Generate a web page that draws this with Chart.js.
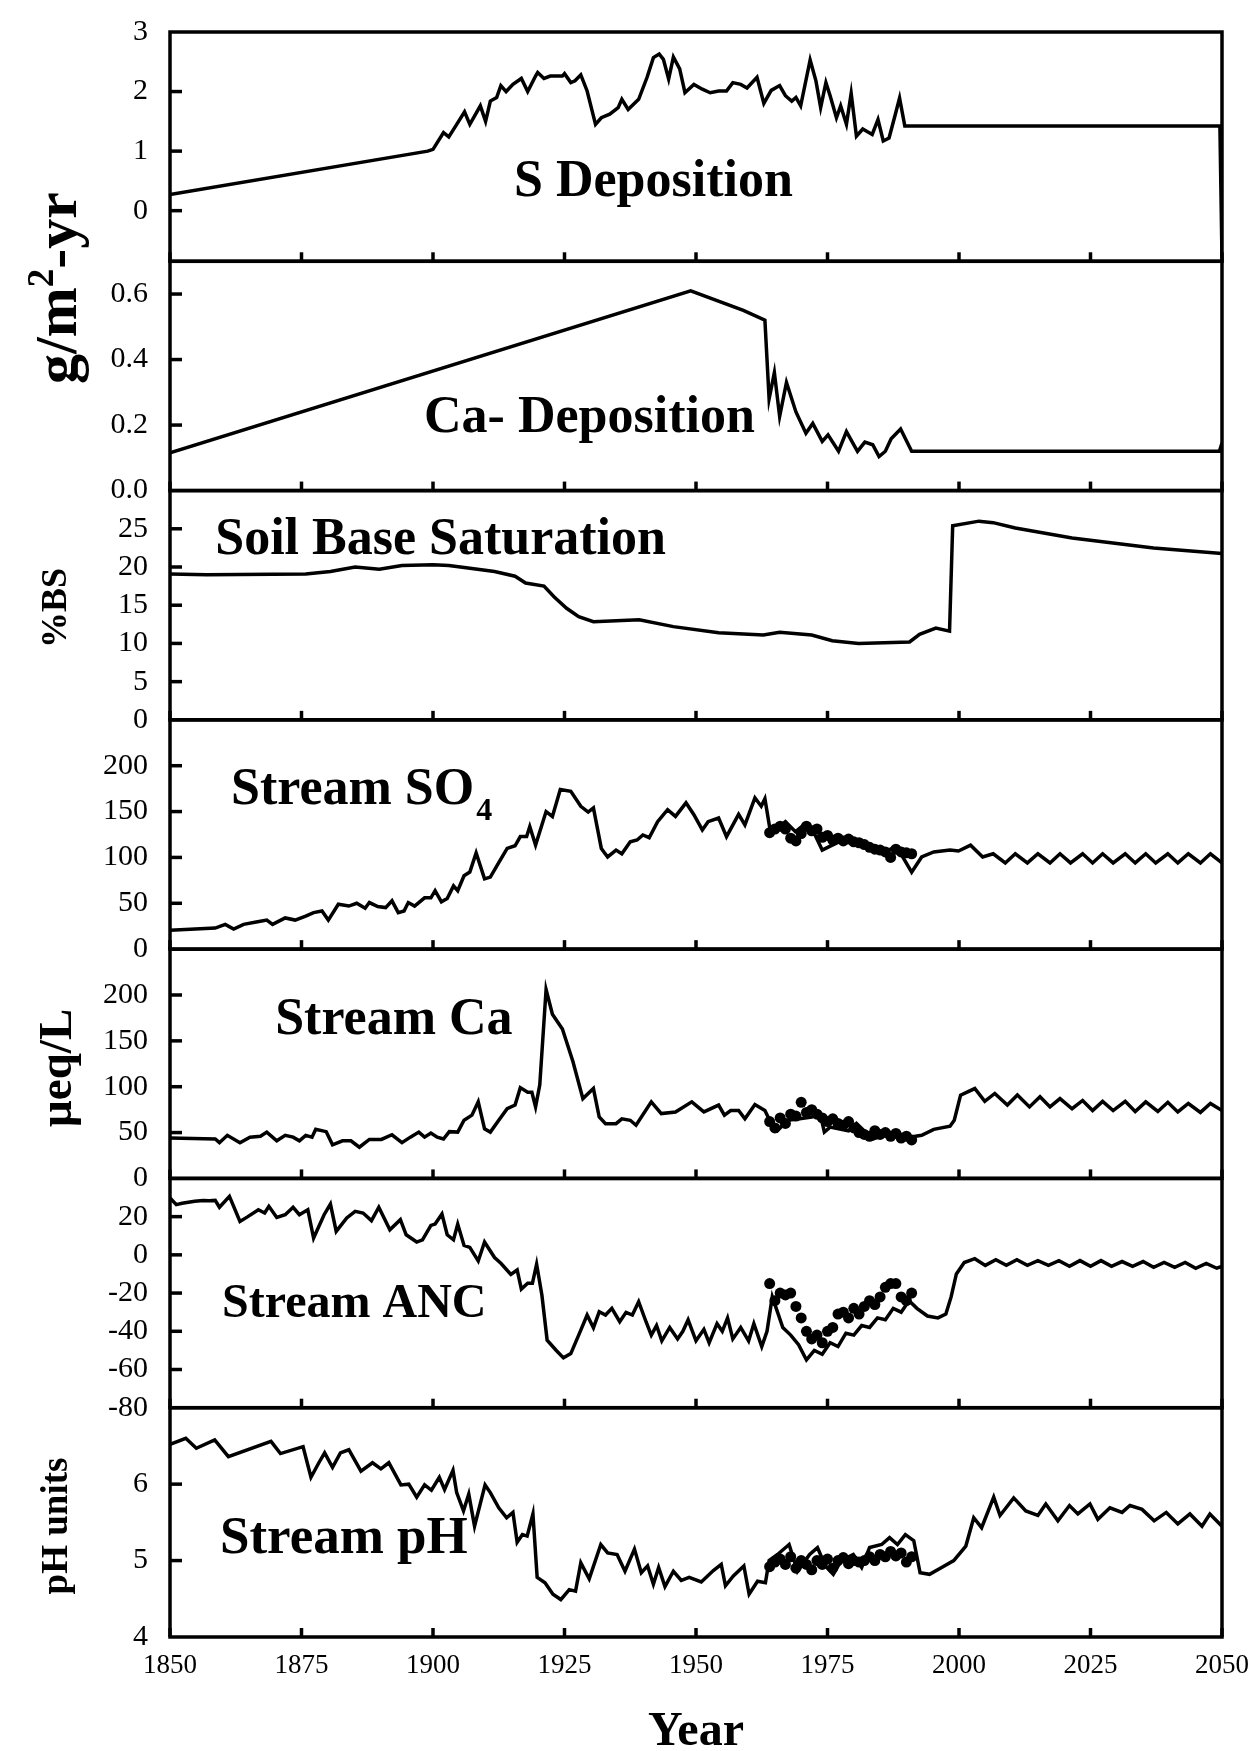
<!DOCTYPE html>
<html>
<head>
<meta charset="utf-8">
<title>Stream chemistry reconstruction 1850-2050</title>
<script src="https://cdn.jsdelivr.net/npm/chart.js@4.4.1/dist/chart.umd.min.js"></script>
<style>
  html, body { margin: 0; padding: 0; background: #fff; }
  #wrap { width: 1256px; height: 1751px; }
</style>
</head>
<body>
<div id="wrap"><canvas id="chart" width="1256" height="1751"></canvas></div>
<script>
// ---- data -------------------------------------------------------------
const yearTicks = [1850, 1875, 1900, 1925, 1950, 1975, 2000, 2025, 2050];

const sDepTicks = [0, 1, 2, 3];
const caDepTicks = [0, 0.2, 0.4, 0.6];
const bsTicks = [0, 5, 10, 15, 20, 25];
const so4Ticks = [0, 50, 100, 150, 200];
const caTicks = [0, 50, 100, 150, 200];
const ancTicks = [-80, -60, -40, -20, 0, 20];
const phTicks = [4, 5, 6];

// S deposition, g/m2-yr
const sDepYears = [
  1850, 1899, 1900, 1902, 1903, 1904.3, 1906, 1907, 1909, 1910,
  1910.9, 1912.1, 1912.9, 1913.9, 1915.2, 1916.8, 1918, 1919.5, 1919.9, 1921.1,
  1922.3, 1924.6, 1925, 1926.2, 1927, 1928.1, 1929.3, 1930.9, 1932, 1933.6,
  1935.2, 1935.9, 1937.1, 1939.1, 1940.7, 1941.9, 1943, 1943.8, 1944.8, 1945.7,
  1946.9, 1947.9, 1949.6, 1951.2, 1952.7, 1954.3, 1955.8, 1957, 1958.5, 1959.7,
  1961.6, 1962.9, 1964.3, 1965.9, 1967, 1968.2, 1969, 1969.9, 1971.7, 1972.8,
  1973.7, 1974.7, 1975.5, 1976.7, 1977.5, 1978.6, 1979.5, 1980.5, 1981.7, 1983.5,
  1984.6, 1985.6, 1986.7, 1987.9, 1988.7, 1989.7, 2049.6, 2050
];
const sDepValues = [
  0.27, 1.0, 1.03, 1.31, 1.24, 1.42, 1.66, 1.45, 1.76, 1.5,
  1.84, 1.90, 2.10, 2.0, 2.12, 2.22, 2.0, 2.26, 2.32, 2.22,
  2.26, 2.26, 2.30, 2.15, 2.18, 2.28, 2.01, 1.45, 1.56, 1.62,
  1.73, 1.87, 1.70, 1.87, 2.24, 2.57, 2.63, 2.54, 2.21, 2.58,
  2.38, 1.98, 2.12, 2.04, 1.98, 2.01, 2.01, 2.15, 2.12, 2.06,
  2.24, 1.80, 2.02, 2.10, 1.93, 1.84, 1.90, 1.76, 2.53, 2.18,
  1.73, 2.15, 1.93, 1.56, 1.76, 1.45, 1.97, 1.25, 1.37, 1.28,
  1.53, 1.17, 1.22, 1.62, 1.89, 1.42, 1.42, -0.8
];

// Ca deposition, g/m2-yr
const caDepYears = [
  1850, 1949, 1959, 1963.1, 1963.9, 1964.9, 1965.9, 1967.2, 1969, 1970.9,
  1972.2, 1974, 1975.1, 1977.1, 1978.6, 1980.7, 1982.1, 1983.6, 1984.8, 1986,
  1987.1, 1988.9, 1991, 2049.5, 2050
];
const caDepValues = [
  0.115, 0.61, 0.55, 0.52, 0.28, 0.36, 0.226, 0.33, 0.24, 0.175,
  0.205, 0.15, 0.17, 0.12, 0.18, 0.12, 0.148, 0.14, 0.104, 0.12,
  0.158, 0.188, 0.12, 0.12, 0.145
];

// soil base saturation, %
const bsYears = [
  1850, 1857, 1875.8, 1880.5, 1885.2, 1889.8, 1894.1, 1900, 1903, 1906.3,
  1911.7, 1915.6, 1917.6, 1921.1, 1923, 1925.4, 1927.7, 1930.5, 1939.2, 1945.7,
  1954.3, 1962.8, 1965.9, 1972, 1975.9, 1980.9, 1990.6, 1992.5, 1995.6, 1998.2,
  1998.8, 2003.8, 2006.5, 2010.7, 2021.5, 2037, 2050
];
const bsValues = [
  19.1, 19.0, 19.1, 19.4, 20.0, 19.7, 20.2, 20.3, 20.2, 19.9,
  19.4, 18.8, 17.9, 17.5, 16.1, 14.6, 13.5, 12.85, 13.1, 12.2,
  11.4, 11.1, 11.45, 11.1, 10.35, 10.0, 10.2, 11.2, 12.0, 11.6,
  25.4, 26.0, 25.8, 25.1, 23.8, 22.5, 21.75
];

// stream SO4, ueq/L (simulated)
const so4Years = [
  1850, 1858.6, 1860.5, 1862.1, 1864, 1866.4, 1868.4, 1869.5, 1871.9, 1873.8,
  1875.8, 1877.3, 1878.9, 1880.1, 1882, 1884, 1885.5, 1887.1, 1887.9, 1889.5,
  1891, 1892.2, 1893.4, 1894.5, 1895.3, 1896.5, 1898.4, 1899.6, 1900.4, 1901.6,
  1902.7, 1903.9, 1904.7, 1905.9, 1907, 1908.2, 1909.8, 1910.9, 1912.5, 1914.1,
  1915.6, 1916.6, 1917.8, 1918.4, 1919.5, 1921.5, 1922.7, 1924.2, 1926.2, 1928.1,
  1929.5, 1930.5, 1932, 1933.2, 1934.8, 1935.9, 1937.5, 1938.8, 1939.9, 1941.1,
  1942.7, 1944.6, 1946.1, 1948.1, 1949.6, 1951.2, 1952.3, 1954.3, 1955.8, 1958.1,
  1959.3, 1961.2, 1962.4, 1963.1, 1964.2, 1965.9, 1967, 1968.9, 1970.5, 1972,
  1974, 1975.9, 1978.6, 1981.3, 1983.6, 1985.9, 1987.5, 1989.1, 1991, 1992.9,
  1995.2, 1998.3, 1999.9, 2002.2, 2004.5, 2006.5, 2008.8, 2010.7, 2013, 2015,
  2017.3, 2019.2, 2021.2, 2023.5, 2025.4, 2027.3, 2029.3, 2031.6, 2033.5, 2035.5,
  2037.4, 2039.7, 2041.6, 2043.6, 2045.9, 2047.8, 2050
];
const so4Values = [
  20.6, 23, 27, 22, 27, 29.5, 31.7, 27, 34, 31.7,
  36, 39.8, 41.6, 31.7, 49, 47, 50, 44.6, 50.8, 46.4,
  45.3, 52.7, 39.8, 41.6, 50.8, 47, 56, 56, 63.7, 51.6,
  55.2, 69, 63.7, 80, 84, 105, 76.6, 78.5, 94.3, 109.8,
  112.7, 122.7, 122.7, 133.7, 113.4, 150, 144.7, 174, 172, 155.8,
  149.5, 154, 109.8, 100.5, 108, 104, 117, 119, 124.5, 121.5,
  139, 152, 144.7, 159.5, 146.6, 130, 139, 143, 122.7, 147,
  135.5, 165, 155.8, 164, 126, 133.7, 139, 128, 135.5, 132,
  108, 113.4, 120.8, 117, 109.8, 106, 110.5, 102.4, 84, 100.5,
  106, 108, 107, 113.4, 100.5, 104, 94, 104, 94, 104,
  94, 104, 94, 104, 94, 104, 94, 104, 94, 104,
  94, 104, 94, 104, 94, 104, 94
];

// stream Ca, ueq/L (simulated)
const caYears = [
  1850, 1858.6, 1859.4, 1860.9, 1863.3, 1865.2, 1867.2, 1868.4, 1870.3, 1871.9,
  1873.4, 1874.6, 1875.8, 1877, 1877.7, 1879.7, 1880.9, 1882.8, 1884.4, 1886,
  1887.9, 1890.2, 1892.2, 1894.1, 1895.7, 1897.3, 1898.4, 1899.6, 1900.8, 1902,
  1903.1, 1904.7, 1905.9, 1907.4, 1908.6, 1909.8, 1910.9, 1912.5, 1914.1, 1915.6,
  1916.6, 1918, 1918.8, 1919.5, 1920.3, 1921.5, 1922.7, 1924.6, 1926.6, 1928.5,
  1930.5, 1931.6, 1932.8, 1934.8, 1935.9, 1937.5, 1938.6, 1941.5, 1943.4, 1946.1,
  1949.2, 1951.5, 1954.3, 1955.4, 1956.6, 1958.1, 1959.3, 1961.2, 1963.1, 1964.3,
  1965.5, 1967.4, 1969.7, 1972, 1973.6, 1974.4, 1975.5, 1979, 1980.5, 1983.6,
  1986.7, 1990.6, 1992.9, 1995.2, 1998.3, 1999.1, 2000.3, 2003, 2004.9, 2006.8,
  2009.2, 2011.1, 2013.4, 2015.4, 2017.3, 2019.2, 2021.5, 2023.5, 2025.4, 2027.3,
  2029.3, 2031.6, 2033.5, 2035.5, 2037.8, 2039.7, 2041.6, 2043.6, 2045.9, 2047.8,
  2050
];
const caValues = [
  44, 43, 39, 47, 39, 45, 46, 50.5, 41, 47,
  45, 41, 47, 45, 53.5, 51, 36.6, 41, 41, 34,
  42.5, 42.5, 47.6, 39, 45, 50.5, 45, 49.5, 45, 43,
  51, 50.5, 63.4, 69, 83.5, 54, 50.5, 63.4, 76, 80,
  99, 94, 94, 78, 102, 206, 179, 163, 127.5, 87,
  98, 67, 59.7, 59.7, 65, 63.4, 58, 83.5, 70.7, 72.5,
  83.5, 72.5, 80, 69, 74, 74, 65, 80.6, 74, 60,
  52, 63.4, 65, 67, 70.7, 50.5, 56, 52, 60, 43,
  48.7, 45, 47, 53.5, 57, 63.4, 90.8, 98, 84, 92.6,
  80, 91, 78, 89, 78, 87, 76, 85, 74, 84,
  74, 84, 73, 83.5, 73, 83, 72.5, 81.7, 72, 81.7,
  74
];

// stream ANC, ueq/L (simulated)
const ancYears = [
  1850, 1851.2, 1852.3, 1853.5, 1854.7, 1856.3, 1857.5, 1858.6, 1859.4, 1861.3,
  1863.3, 1864.8, 1866.8, 1868, 1868.8, 1870.3, 1871.9, 1873.4, 1874.6, 1876.2,
  1877.3, 1879.3, 1880.5, 1881.6, 1883.6, 1885.2, 1886.7, 1888.3, 1889.7, 1891.8,
  1893.8, 1894.9, 1896.9, 1898, 1899.6, 1900.4, 1901.7, 1902.7, 1903.9, 1904.7,
  1905.9, 1907, 1908.6, 1909.8, 1911.7, 1912.9, 1914.8, 1916, 1916.8, 1918,
  1918.9, 1919.7, 1920.7, 1921.7, 1923.4, 1924.8, 1926.2, 1928.1, 1929.3, 1930.5,
  1931.6, 1932.8, 1934, 1935.5, 1936.7, 1937.9, 1939.1, 1940.5, 1941.5, 1942.5,
  1943.5, 1945, 1946.5, 1947.5, 1948.5, 1950, 1951.5, 1952.5, 1954, 1955,
  1956, 1957, 1958.5, 1960, 1961, 1962.5, 1963.5, 1964.5, 1965.5, 1966.5,
  1968, 1969.5, 1971, 1972.5, 1974, 1975.5, 1977, 1978.5, 1980, 1981.5,
  1983, 1984.5, 1986, 1987.5, 1989, 1990.5, 1992, 1994, 1996, 1997.5,
  1998.5, 1999.5, 2001, 2003, 2005, 2007, 2009, 2011, 2013, 2015,
  2017, 2019, 2021, 2023, 2025, 2027, 2029, 2031, 2033, 2035,
  2037, 2039, 2041, 2043, 2045, 2047, 2049, 2050
];
const ancValues = [
  29.8, 26.3, 27, 27.5, 28, 28.5, 28.3, 28.5, 24.9, 30.6,
  17.5, 20, 23.6, 21.9, 25.4, 19.6, 21, 24.9, 21, 23.6,
  8.8, 21, 26.6, 12.3, 19.3, 22.8, 21.9, 17.9, 24.9, 13.1,
  18.4, 10.5, 6.7, 7.9, 15.4, 16.1, 21.4, 10.5, 7.9, 16.1,
  4.9, 3.9, -3.2, 6.7, -1.4, -4.4, -10.2, -7.9, -17.9, -14.9,
  -14.9, -4.9, -21, -44.7, -49.9, -53.9, -51.7, -39.4, -31.5, -38.2,
  -29.8, -31.5, -28, -35, -30.1, -31.5, -24.5, -35, -42, -37,
  -45, -38, -44, -40, -34, -45, -39, -46, -36, -40,
  -33, -44, -38, -45, -36, -48, -40, -22, -30, -38,
  -42, -47, -55, -50, -52, -46, -48, -41, -42, -37,
  -38, -33, -34, -28, -30, -24, -28, -32, -33, -31,
  -22, -10, -4, -2, -5.5, -2.5, -5.5, -2.5, -5.5, -3,
  -5.5, -3, -6, -3, -6, -3, -6, -3.5, -6, -3.5,
  -6.5, -4, -6.5, -4, -7, -4.5, -7, -6
];

// stream pH (simulated)
const phYears = [
  1850, 1853, 1855, 1858.5, 1861.1, 1869.2, 1871, 1875.3, 1876.8, 1878.3,
  1879.4, 1880.9, 1882.4, 1884, 1886.3, 1888.5, 1890.1, 1891.6, 1893.9, 1895.4,
  1896.9, 1898.4, 1899.7, 1901.2, 1902.2, 1903.8, 1904.5, 1905.8, 1906.8, 1907.9,
  1909.9, 1910.9, 1912.5, 1914, 1915.2, 1916, 1917, 1917.9, 1919, 1919.8,
  1921.3, 1922.8, 1924.3, 1925.9, 1927.1, 1928.1, 1929.7, 1931.9, 1933.2, 1935,
  1936.5, 1938.3, 1939.6, 1940.8, 1941.9, 1942.9, 1944.1, 1945.7, 1947.2, 1948.7,
  1951, 1953.3, 1954.8, 1955.6, 1957.1, 1959.1, 1960.1, 1961.7, 1963.2, 1963.9,
  1965.5, 1967.7, 1969.3, 1971.6, 1973.1, 1974.6, 1976.1, 1977.6, 1979.9, 1981.5,
  1983, 1985.3, 1986.8, 1988.3, 1989.8, 1991.4, 1992.6, 1994.4, 1996.7, 1999,
  2001.3, 2002.8, 2004.3, 2006.6, 2007.8, 2010.4, 2012.7, 2015, 2016.5, 2018.8,
  2021, 2022.6, 2024.9, 2026.4, 2028.7, 2031, 2032.5, 2034.8, 2037.1, 2039.4,
  2041.6, 2043.9, 2046.2, 2047.7, 2050
];
const phValues = [
  6.52, 6.60, 6.47, 6.58, 6.36, 6.56, 6.40, 6.49, 6.09, 6.28,
  6.41, 6.22, 6.41, 6.45, 6.17, 6.28, 6.20, 6.28, 5.99, 6.0,
  5.83, 5.99, 5.92, 6.09, 5.93, 6.18, 5.89, 5.65, 5.87, 5.45,
  5.99, 5.89, 5.69, 5.56, 5.63, 5.24, 5.34, 5.32, 5.61, 4.78,
  4.71, 4.56, 4.49, 4.62, 4.60, 4.97, 4.76, 5.21, 5.10, 5.08,
  4.86, 5.15, 4.84, 4.93, 4.69, 4.91, 4.66, 4.86, 4.74, 4.78,
  4.72, 4.87, 4.95, 4.67, 4.80, 4.93, 4.56, 4.73, 4.71, 5.0,
  5.08, 5.21, 4.86, 5.08, 5.17, 4.93, 4.82, 5.0, 5.08, 4.91,
  5.17, 5.21, 5.30, 5.21, 5.34, 5.26, 4.84, 4.82, 4.91, 5.0,
  5.19, 5.56, 5.43, 5.83, 5.59, 5.82, 5.65, 5.59, 5.74, 5.52,
  5.72, 5.61, 5.74, 5.54, 5.69, 5.63, 5.72, 5.67, 5.52, 5.63,
  5.48, 5.61, 5.45, 5.61, 5.45
];

// stream observations 1964-1991
const obsYears = [
  1964, 1965, 1966, 1967, 1968, 1969, 1970, 1971, 1972, 1973,
  1974, 1975, 1976, 1977, 1978, 1979, 1980, 1981, 1982, 1983,
  1984, 1985, 1986, 1987, 1988, 1989, 1990, 1991
];
const obsSO4 = [
  127, 131, 134, 131, 121, 118, 126, 134, 129, 131,
  122, 124, 119, 121, 118, 120, 117, 116, 114, 111,
  109, 108, 106, 100, 109, 106, 105, 104
];
const obsCa = [
  62, 55, 66, 60, 70, 68, 83, 72, 75, 70,
  66, 62, 65, 60, 58, 62, 55, 50, 48, 46,
  52, 48, 50, 46, 49, 44, 46, 42
];
const obsANC = [
  -15, -24, -20, -21, -20, -27, -33, -40, -44, -42,
  -46, -40, -38, -31, -30, -33, -28, -31, -27, -24,
  -26, -22, -17, -15, -15, -22, -24, -20
];
const obsPH = [
  4.92, 4.98, 5.02, 4.95, 5.05, 4.90, 5.00, 4.95, 4.88, 5.00,
  4.95, 5.02, 4.90, 5.00, 5.04, 4.96, 5.00, 4.98, 5.00, 5.05,
  5.00, 5.08, 5.05, 5.12, 5.06, 5.10, 4.98, 5.05
];

// ---- chart ------------------------------------------------------------
const SERIF = "'Liberation Serif', 'Times New Roman', Times, serif";
const AXIS_W = 170;
const INK = 3.5;

const toPoints = (xs, ys) => xs.map((x, i) => ({ x, y: ys[i] }));

// panels from top to bottom
const panels = [
  { id: 'ySdep',  min: -0.85, max: 3,   ticks: sDepTicks,  fmt: v => String(v) },
  { id: 'yCaDep', min: 0,     max: 0.7, ticks: caDepTicks, fmt: v => v.toFixed(1) },
  { id: 'yBS',    min: 0,     max: 30,  ticks: bsTicks,    fmt: v => String(v) },
  { id: 'ySO4',   min: 0,     max: 250, ticks: so4Ticks,   fmt: v => String(v) },
  { id: 'yCa',    min: 0,     max: 250, ticks: caTicks,    fmt: v => String(v) },
  { id: 'yANC',   min: -80,   max: 40,  ticks: ancTicks,   fmt: v => String(v) },
  { id: 'ypH',    min: 4,     max: 7,   ticks: phTicks,    fmt: v => String(v) }
];

const scales = {
  x: {
    type: 'linear',
    position: 'bottom',
    min: 1850,
    max: 2050,
    afterBuildTicks: s => { s.ticks = yearTicks.map(v => ({ value: v })); },
    afterFit: s => { s.height = 114; },
    grid: { display: false },
    border: { display: false },
    ticks: {
      autoSkip: false, maxRotation: 0, padding: 5, color: '#000',
      font: { family: SERIF, size: 27 },
      callback: v => String(v)
    },
    title: {
      display: true, text: 'Year', color: '#000',
      font: { family: SERIF, size: 48, weight: 'bold', lineHeight: 1.0 },
      padding: { top: 0, bottom: -6 }
    }
  }
};

panels.forEach((p, i) => {
  scales[p.id] = {
    type: 'linear',
    position: 'left',
    stack: 'panels',
    stackWeight: 1,
    weight: panels.length - i,
    min: p.min,
    max: p.max,
    afterBuildTicks: s => { s.ticks = p.ticks.map(v => ({ value: v })); },
    afterFit: s => { s.width = AXIS_W; },
    grid: { display: false },
    border: { display: false },
    ticks: {
      autoSkip: false, padding: 14, color: '#000',
      font: { family: SERIF, size: 30 },
      callback: p.fmt
    }
  };
});

const line = (data, yAxisID) => ({
  type: 'line', data, yAxisID, xAxisID: 'x',
  borderColor: '#000', borderWidth: INK, pointRadius: 0,
  tension: 0, fill: false, order: 2
});
const dots = (data, yAxisID) => ({
  type: 'scatter', data, yAxisID, xAxisID: 'x',
  showLine: false, pointRadius: 5.5, pointBorderWidth: 0,
  pointBackgroundColor: '#000', borderColor: '#000', order: 1
});

// text drawn inside each panel, anchored in data units (left, baseline)
const panelTitles = [
  { axis: 'ySdep',  text: 'S Deposition',         year: 1915.4, value: 0.24,  size: 52 },
  { axis: 'yCaDep', text: 'Ca- Deposition',       year: 1898.3, value: 0.18,  size: 52 },
  { axis: 'yBS',    text: 'Soil Base Saturation', year: 1858.6, value: 21.7,  size: 52 },
  { axis: 'ySO4',   text: 'Stream SO', sub: '4',  year: 1861.6, value: 158,   size: 52 },
  { axis: 'yCa',    text: 'Stream Ca',            year: 1870,   value: 157,   size: 52 },
  { axis: 'yANC',   text: 'Stream ANC',           year: 1859.9, value: -32.4, size: 48 },
  { axis: 'ypH',    text: 'Stream pH',            year: 1859.5, value: 5.10,  size: 53 }
];

// rotated unit labels on the left edge: [text, superscript?]
const unitLabels = [
  { pieces: [['g/m', false], ['2', true], ['-yr', false]], size: 60, x: 76, y: 288 },
  { pieces: [['%BS', false]], size: 36, x: 66, y: 608 },
  { pieces: [['\u00b5eq/L', false]], size: 47, x: 71, y: 1068 },
  { pieces: [['pH units', false]], size: 37, x: 67, y: 1526 }
];

const panelFrame = {
  id: 'panelFrame',
  afterDatasetsDraw(chart) {
    const { ctx, chartArea, scales: sc } = chart;
    const xs = sc.x;
    const left = chartArea.left, right = chartArea.right;
    ctx.save();
    ctx.strokeStyle = '#000';
    ctx.fillStyle = '#000';
    ctx.lineCap = 'butt';

    panels.forEach(p => {
      const ys = sc[p.id];
      ctx.lineWidth = INK;
      ctx.strokeRect(left, ys.top, right - left, ys.bottom - ys.top);

      // year ticks rising from the floor of each panel
      xs.ticks.forEach(t => {
        const px = xs.getPixelForValue(t.value);
        ctx.beginPath();
        ctx.moveTo(px, ys.bottom);
        ctx.lineTo(px, ys.bottom - 9);
        ctx.stroke();
      });

      // value ticks pointing into the panel
      ys.ticks.forEach(t => {
        if (t.value <= ys.min || t.value >= ys.max) return;
        const py = ys.getPixelForValue(t.value);
        ctx.beginPath();
        ctx.moveTo(left, py);
        ctx.lineTo(left + 12, py);
        ctx.stroke();
      });
    });

    ctx.textAlign = 'left';
    ctx.textBaseline = 'alphabetic';
    panelTitles.forEach(t => {
      const px = xs.getPixelForValue(t.year);
      const py = sc[t.axis].getPixelForValue(t.value);
      ctx.font = `bold ${t.size}px ${SERIF}`;
      ctx.fillText(t.text, px, py);
      if (t.sub) {
        const w = ctx.measureText(t.text).width;
        const subSize = Math.round(t.size * 0.62);
        ctx.font = `bold ${subSize}px ${SERIF}`;
        ctx.fillText(t.sub, px + w + 2, py + 16);
      }
    });

    unitLabels.forEach(u => {
      const supSize = Math.round(u.size * 0.62);
      const widths = u.pieces.map(([txt, sup]) => {
        ctx.font = `bold ${sup ? supSize : u.size}px ${SERIF}`;
        return ctx.measureText(txt).width;
      });
      const total = widths.reduce((a, b) => a + b, 0);
      ctx.save();
      ctx.translate(u.x, u.y);
      ctx.rotate(-Math.PI / 2);
      let cx = -total / 2;
      u.pieces.forEach(([txt, sup], i) => {
        ctx.font = `bold ${sup ? supSize : u.size}px ${SERIF}`;
        ctx.fillText(txt, cx, sup ? -u.size * 0.38 : 0);
        cx += widths[i];
      });
      ctx.restore();
    });

    ctx.restore();
  }
};

new Chart(document.getElementById('chart'), {
  data: {
    datasets: [
      line(toPoints(sDepYears, sDepValues), 'ySdep'),
      line(toPoints(caDepYears, caDepValues), 'yCaDep'),
      line(toPoints(bsYears, bsValues), 'yBS'),
      line(toPoints(so4Years, so4Values), 'ySO4'),
      line(toPoints(caYears, caValues), 'yCa'),
      line(toPoints(ancYears, ancValues), 'yANC'),
      line(toPoints(phYears, phValues), 'ypH'),
      dots(toPoints(obsYears, obsSO4), 'ySO4'),
      dots(toPoints(obsYears, obsCa), 'yCa'),
      dots(toPoints(obsYears, obsANC), 'yANC'),
      dots(toPoints(obsYears, obsPH), 'ypH')
    ]
  },
  options: {
    responsive: false,
    devicePixelRatio: 1,
    animation: false,
    layout: { padding: { top: 27, right: 34, bottom: 0, left: 0 } },
    plugins: { legend: { display: false }, tooltip: { enabled: false } },
    scales
  },
  plugins: [panelFrame]
});
</script>
</body>
</html>
